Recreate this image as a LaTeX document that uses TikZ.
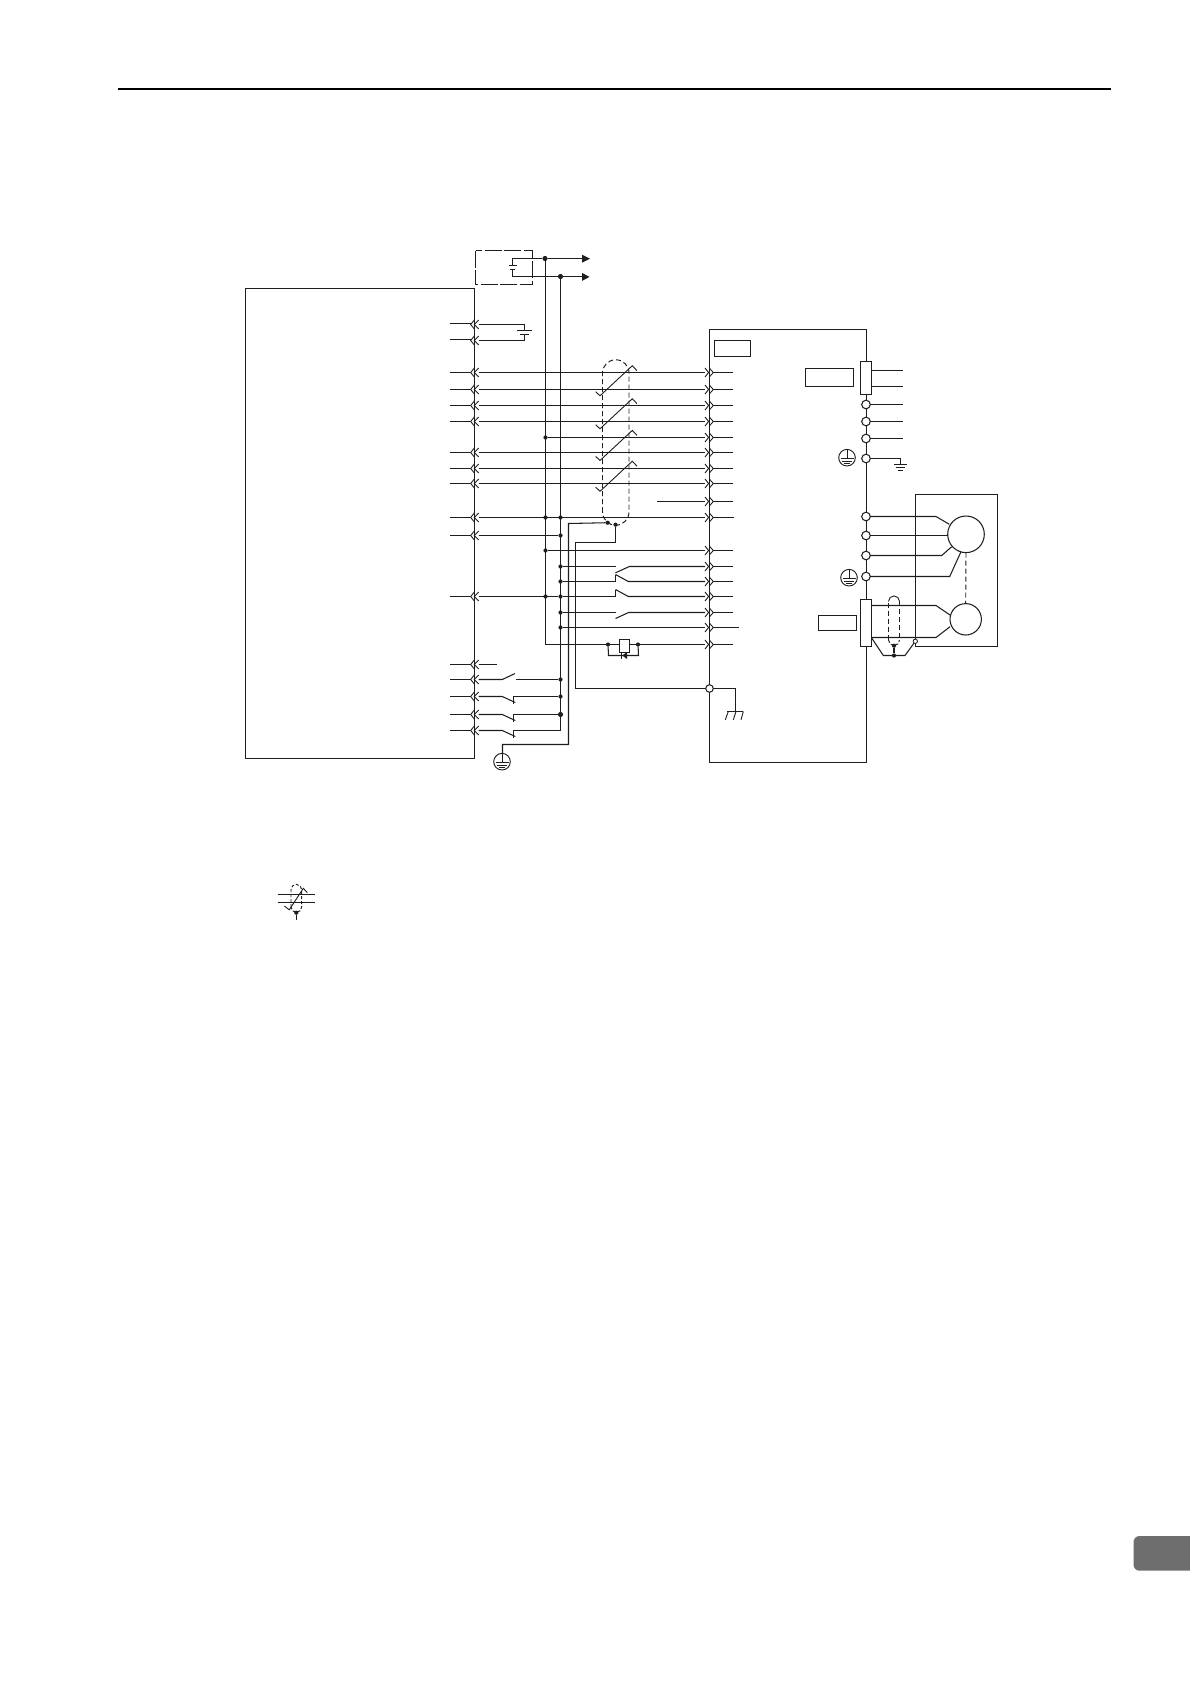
\documentclass[tikz,border=0pt]{standalone}
\definecolor{ink}{HTML}{1E1E1E}
\definecolor{tabgrey}{HTML}{6E6E6E}
\tikzset{
  wire/.style={draw=ink,line width=1.05pt,line join=miter},
  thin wire/.style={draw=ink,line width=.9pt},
  frame/.style={draw=ink,line width=1.05pt,fill=none,inner sep=0pt,outer sep=0pt,rectangle},
  whitebox/.style={frame,fill=white},
  term/.style={circle,draw=ink,fill=white,line width=1.05pt,inner sep=0pt,outer sep=0pt,minimum size=8.6pt},
  dot/.style={circle,fill=ink,inner sep=0pt,outer sep=0pt,minimum size=4.2pt},
  bigdot/.style={circle,fill=ink,inner sep=0pt,outer sep=0pt,minimum size=5.2pt},
  motor/.style={circle,draw=ink,line width=1.05pt,inner sep=0pt,outer sep=0pt},
  shield/.style={draw=ink,line width=.95pt,dash pattern=on 5pt off 3pt},
  chev/.style={draw=ink,line width=.9pt,line join=miter},
}
\newcommand{\boxnode}[6][frame]{% style, name, x1,y1,x2,y2
  \path ({(#3+#5)/2},{(#4+#6)/2}) node[#1,minimum width={(#5-#3)*1pt},minimum height={(#6-#4)*1pt}] (#2) {};}
\newcommand{\pesym}[3]{% name,x,y
  \node[circle,draw=ink,line width=.95pt,inner sep=0pt,minimum size=16.6pt] (#1) at (#2,#3) {};
  \draw[thin wire] (#2,#3-8) -- (#2,#3+.7);
  \draw[thin wire] (#2-6.5,#3+.7) -- (#2+6.5,#3+.7)
     (#2-5,#3+3.3) -- (#2+5,#3+3.3) (#2-3,#3+5.7) -- (#2+3,#3+5.7);}
\newcommand{\twist}[1]{%
  \draw[thin wire] (595.7,391.7+#1) -- (600,395.8+#1) -- (632.3,365.7+#1) -- (637,370.7+#1);}
\begin{document}
\begin{tikzpicture}[x=1pt,y=-1pt]
\useasboundingbox (0,0) rectangle (1190,1684);
% header rule and page tab
\draw[draw=black,line width=2pt] (118,89) -- (1111,89);
\fill[tabgrey,rounded corners=6pt] (1133.5,1536) -- (1200,1536) -- (1200,1570.7) -- (1133.5,1570.7) -- cycle;

% main boxes
\boxnode{ctrl}{245.5}{288.5}{474.5}{758.5}
\boxnode{drv}{709.5}{329.5}{866.5}{762.5}
\coordinate (dbA) at (475.5,250.5);
\coordinate (dbB) at (532.5,284.5);
\draw[draw=ink,line width=.95pt,dash pattern=on 17pt off 2.5pt] (dbA) rectangle (dbB);
\boxnode{drvlabel}{714.5}{340.5}{750.5}{356.5}
\boxnode{cnlabel}{805.5}{368.5}{853.5}{386.5}
\boxnode{enclabel}{818.5}{615.5}{856.5}{630.5}
\boxnode{motorbox}{915.5}{494.5}{997.5}{646.5}

% row coordinates
\foreach \r/\yy in {a/324.5,b/340.5,c/372.5,d/389.5,e/405.5,f/421.5,g/437.5,h/452.5,i/468.5,j/483.5,k/501.5,l/517.5,m/535.5,n/550.5,o/566.5,p/581.5,q/596.5,r/612.5,s/627.5,t/644.5,u/664.5,v/679.5,w/696.5,x/714.5,y/730.5}{
  \coordinate (L\r) at (478.7,\yy);
  \coordinate (R\r) at (705,\yy);
  \coordinate (B\r) at (545.5,\yy);
  \coordinate (C\r) at (560.5,\yy);
}

% left connector chevrons and stubs
\foreach \yy/\st in {324.5/323.5,340.5/339.5,372.5/372.5,389.5/389.5,405.5/405.5,421.5/421.5,452.5/452.5,468.5/468.5,483.5/483.5,517.5/517.5,535.5/535.5,596.5/596.5,664.5/664.5,679.5/679.5,696.5/696.5,714.5/714.5,730.5/730.5}{
  \draw[wire] (450,\st) -- (471,\st);
  \draw[chev] (474.3,\yy-4.5) -- (470.7,\yy) -- (474.3,\yy+4.5);
  \draw[chev] (478.7,\yy-4.5) -- (474.2,\yy) -- (478.7,\yy+4.5);
}
% right connector chevrons and stubs
\foreach \yy/\en in {372.5/732.7,389.5/732.7,405.5/732.7,421.5/732.7,437.5/732.7,452.5/732.7,468.5/732.7,483.5/732.7,501.5/732.7,517.5/733.7,550.5/732.7,566.5/732.7,581.5/732.7,596.5/732.7,612.5/732.7,627.5/738.7,644.5/732.7}{
  \draw[chev] (705,\yy-4.5) -- (708.6,\yy) -- (705,\yy+4.5);
  \draw[chev] (709.3,\yy-4.5) -- (713.3,\yy) -- (709.3,\yy+4.5);
  \draw[wire] (713,\yy) -- (\en,\yy);
}

% power supply in the dashed box
\coordinate (ps1) at (512.5,258.5);
\coordinate (ps2) at (512.5,276.5);
\node[bigdot] (j1) at (545,258.5) {};
\node[bigdot] (j2) at (560.5,276.5) {};
\coordinate (out1) at (582,258.5);
\coordinate (out2) at (582,276.5);
\draw[wire] (512.5,265.5) -- (ps1) -- (j1) -- (out1);
\draw[wire] (512.5,269.5) -- (ps2) -- (j2) -- (out2);
\draw[wire] (508.7,265.5) -- (517.3,265.5);
\draw[wire] (510.3,269.5) -- (515.3,269.5);
\fill[ink] (582,254.7) -- (590,258.7) -- (582,262.7) -- cycle;
\fill[ink] (582,272.9) -- (589.5,276.9) -- (582,280.9) -- cycle;

% control battery
\coordinate (bt1) at (524.5,324.5);
\coordinate (bt2) at (524.5,340.5);
\draw[wire] (La) -- (bt1) -- (524.5,330.5);
\draw[wire] (Lb) -- (bt2) -- (524.5,334.5);
\draw[wire] (517.3,330.5) -- (532,330.5);
\draw[wire] (520.3,334.5) -- (529,334.5);

% vertical buses
\draw[wire] (545.5,258.5) -- (Bt);
\draw[wire] (560.5,276.5) -- (Cy);

% through signals
\foreach \r in {c,d,e,f,h,i,j}{ \draw[wire] (L\r) -- (R\r); }
\foreach \r in {g,n}{
  \node[dot] (J\r) at (B\r) {};
  \draw[wire] (J\r) -- (R\r);
}
\draw[wire] (657,501.5) -- (Rk);
\draw[wire] (Ll) -- (Rl);
\node[dot] (Jl1) at (Bl) {};
\node[dot] (Jl2) at (Cl) {};
\node[dot] (Jm) at (Cm) {};
\draw[wire] (Lm) -- (Jm);
\node[dot] (Jq1) at (Bq) {};
\node[dot] (Jq2) at (Cq) {};
\draw[wire] (Lq) -- (Jq2);

% twisted pair marks
\twist{0}
\twist{33}
\twist{64.7}
\twist{95.5}

% main shield
\draw[shield] (602.5,512) -- (602.5,373) arc[start angle=180,end angle=360,radius=13.25] -- (629,512) arc[start angle=0,end angle=180,radius=13.25];
\node[dot] (sh1) at (607.7,522.7) {};
\node[dot] (sh2) at (615.5,524.7) {};
\node[term,minimum size=7.6pt] (fg) at (709.5,688.5) {};
\coordinate (gnd) at (735.5,711.5);
\pesym{pe3}{502}{761.7}
\draw[wire] (sh2) -- (615.5,542.5) -- (575.5,542.5) -- (575.5,688.5) -- (fg);
\draw[wire] (sh1) -- (568.5,523.5) -- (568.5,744.5) -- (502.5,744.5) -- (502.5,753.4);
\draw[wire] (fg) -- (735.5,688.5) -- (gnd);
\draw[wire] (727.3,711.5) -- (743.3,711.5);
\draw[thin wire] (728.3,711.5) -- (725.3,719.8) (736,711.5) -- (733.3,719.8) (743.3,711.5) -- (741,719.8);

% switches on the lower rows
\node[dot] (Jo) at (Co) {};
\node[dot] (Jp) at (Cp) {};
\node[dot] (Jr) at (Cr) {};
\node[dot] (Js) at (Cs) {};
\draw[wire] (Jo) -- (615.5,566.5);
\draw[wire] (615.5,572.8) -- (629.3,566.5) -- (Ro);
\draw[wire] (Jp) -- (615.5,581.5) -- (615.5,574.5);
\draw[wire] (615.5,574.5) -- (628.3,581.5) -- (Rp);
\draw[wire] (Jq2) -- (615.5,596.5) -- (615.5,589.5);
\draw[wire] (615.5,589.5) -- (628.3,596.5) -- (Rq);
\draw[wire] (Jr) -- (615.5,612.5);
\draw[wire] (615.5,618.5) -- (628.6,612.5) -- (Rr);
\draw[wire] (Js) -- (Rs);

% relay with diode
\node[dot] (ry1) at (608,644.5) {};
\node[dot] (ry2) at (638,644.5) {};
\draw[wire] (Bt) -- (ry1) -- (ry2) -- (Rt);
\boxnode[whitebox]{relay}{619.5}{639.5}{629.5}{652.5}
\draw[wire] (ry1) -- (608.5,655.5) -- (638.5,655.5) -- (ry2);
\fill[ink] (622.3,655.5) -- (627,652) -- (627,659) -- cycle;
\draw[thin wire] (621.8,651.8) -- (621.8,659.2);

% lower left contacts
\draw[wire] (Lu) -- (496.7,664.5);
\node[dot] (Jv) at (Cv) {};
\node[dot] (Jw) at (Cw) {};
\node[bigdot] (Jx) at (Cx) {};
\draw[wire] (Lv) -- (502.3,679.5) -- (515,673.5);
\draw[wire] (516,679.5) -- (Jv);
\foreach \r/\yy/\jn in {w/696.5/Jw,x/714.5/Jx,y/730.5/Cy}{
  \draw[wire] (L\r) -- (502.3,\yy) -- (515.3,\yy+6);
  \draw[wire] (513.5,\yy+7.5) -- (513.5,\yy) -- (\jn);
}

% right side terminals
\boxnode[whitebox]{cn1}{860.5}{361.5}{871.5}{394.5}
\boxnode[whitebox]{cn2}{860.5}{599.5}{871.5}{646.5}
\node[term] (t1) at (866,404.5) {};
\node[term] (t2) at (866,421.5) {};
\node[term] (t3) at (866,438.5) {};
\node[term] (t4) at (866,458.5) {};
\node[term] (u) at (866,516.5) {};
\node[term] (v) at (866,535.5) {};
\node[term] (w) at (866,555.5) {};
\node[term] (pg) at (866,576.5) {};
\draw[wire] (871.5,370.5) -- (903,370.5) (871.5,386.5) -- (903,386.5);
\draw[wire] (t1) -- (903,404.5);
\draw[wire] (t2) -- (903,421.5);
\draw[wire] (t3) -- (903,438.5);
\draw[wire] (t4) -- (900.5,458.5) -- (900.5,464.5);
\draw[wire] (893.7,464.5) -- (907,464.5);
\draw[wire] (896,467.5) -- (904.7,467.5);
\draw[wire] (897.7,470.5) -- (903,470.5);
\pesym{pe1}{847}{457.7}
\pesym{pe2}{849}{577.7}

% motor and encoder
\node[motor,minimum size=36.6pt] (mot) at (966,534.3) {};
\node[motor,minimum size=31.4pt] (enc) at (965.7,619.3) {};
\draw[wire] (u) -- (936,516.5) -- (949.3,524.3);
\draw[wire] (v) -- (947.7,535.5);
\draw[wire] (w) -- (941.7,555.5) -- (951.7,546.7);
\draw[wire] (pg) -- (949.7,576.5) -- (961,551.7);
\draw[shield] (mot.south) -- (enc.north);
\draw[wire] (871.5,605.5) -- (936,605.5) -- (950,615);
\draw[wire] (871.5,637.5) -- (936,637.5) -- (950,626.7);

% encoder cable shield
\draw[shield] (888.5,640) -- (888.5,601.4);
\draw[shield] (899.5,601.4) -- (899.5,640);
\draw[thin wire] (888.5,601.4) arc[start angle=180,end angle=360,radius=5.5];
\draw[shield,dash pattern=on 3pt off 2pt] (888.5,640) arc[start angle=180,end angle=0,radius=5.5];
\node[dot] (es1) at (894,645.7) {};
\node[dot] (es2) at (894,655.5) {};
\node[term,minimum size=4.4pt,line width=.8pt] (fgm) at (915.3,641.3) {};
\draw[wire] (es1) -- (es2);
\draw[wire] (871.5,637.7) -- (883.3,655.5) -- (905,655.5) -- (fgm);

% legend symbol
\coordinate (lg) at (296.3,912.7);
\draw[wire] (277.7,894.5) -- (315,894.5);
\draw[wire] (277.7,902.5) -- (315,902.5);
\draw[thin wire] (284.3,906) -- (289.3,909.8) -- (303.3,888.3) -- (307.3,892.7);
\draw[shield,dash pattern=on 3pt off 2pt] (291,907) -- (291,889.7) arc[start angle=180,end angle=360,radius=5.35] -- (301.7,907) arc[start angle=0,end angle=180,radius=5.35];
\node[dot] (lgd) at (lg) {};
\draw[wire] (lgd) -- (296.3,920);
\end{tikzpicture}
\end{document}
